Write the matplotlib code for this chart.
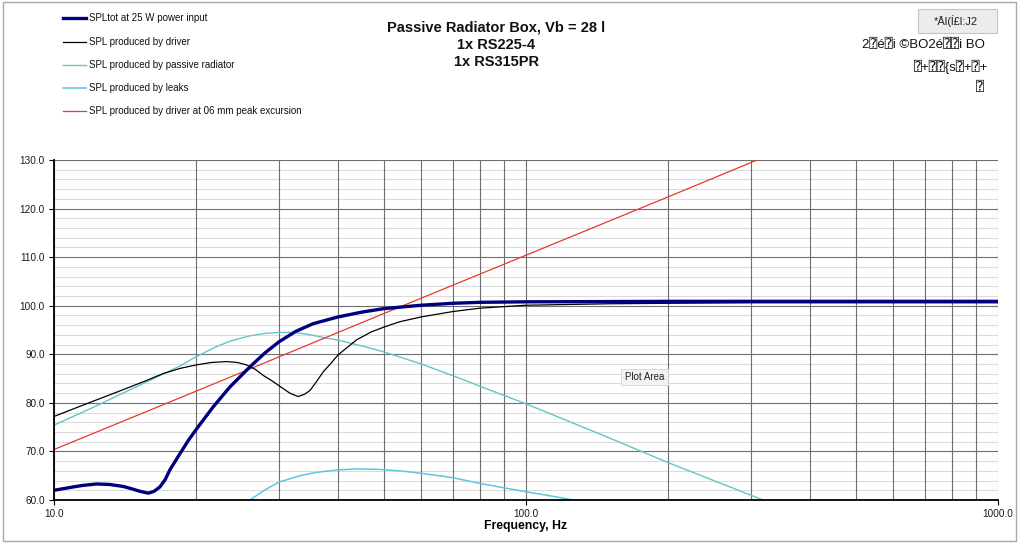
import matplotlib
matplotlib.use("Agg")
import matplotlib.pyplot as plt
from matplotlib.lines import Line2D
from matplotlib.patches import Rectangle
from matplotlib.ticker import FixedLocator, NullFormatter, FixedFormatter

plt.rcParams['font.family'] = ['Liberation Sans', 'DejaVu Sans', 'DejaVu Sans Mono']

# ---------------- data ----------------
title_lines = ["Passive Radiator Box, Vb = 28 l", "1x RS225-4", "1x RS315PR"]
series_labels = ["SPLtot at 25 W power input",
                 "SPL produced by driver",
                 "SPL produced by passive radiator",
                 "SPL produced by leaks",
                 "SPL produced by driver at 06 mm peak excursion"]

tot_freq = [10, 11, 11.5, 12.3, 13.1, 14, 14.5, 15.2, 15.85, 16.3, 16.77, 17.2, 17.6, 18.5,
            19.3, 20, 21.75, 23.6, 26.0, 28, 30, 32.5, 35.4, 40, 45, 50, 60, 70, 80, 100,
            150, 200, 300, 500, 1000]
tot_spl = [62.0, 62.7, 63.0, 63.3, 63.2, 62.8, 62.4, 61.8, 61.4, 61.8, 62.7, 64.2, 66.2, 69.6,
           72.4, 74.5, 79.2, 83.3, 87.4, 90.3, 92.6, 94.7, 96.3, 97.7, 98.7, 99.4, 100.1, 100.5,
           100.7, 100.8, 100.85, 100.9, 100.9, 100.9, 100.9]

drv_freq = [10, 12, 14, 15.7, 17, 18.5, 20, 21.5, 23.2, 24.5, 25.6, 26.7, 27.8, 29, 30,
            31.6, 32.9, 34, 34.9, 36, 37.2, 38.5, 40, 43.8, 47, 50, 54, 60, 70, 80, 100,
            150, 200, 300, 500, 1000]
drv_spl = [77.2, 80.2, 82.7, 84.6, 86.0, 87.1, 87.8, 88.3, 88.5, 88.3, 87.8, 86.9, 85.6, 84.5, 83.5,
           82.0, 81.3, 81.8, 82.6, 84.4, 86.4, 88.0, 89.9, 93.0, 94.6, 95.6, 96.7, 97.7, 98.8, 99.5,
           100.1, 100.4, 100.5, 100.6, 100.6, 100.6]

pr_freq = [10, 12, 14, 16.5, 18.5, 20, 22, 23.6, 26, 28, 30, 31.5, 32.8, 35, 37, 40, 45, 50,
           55, 60, 70, 80, 100, 150, 200, 318]
pr_spl = [75.4, 78.9, 82.0, 85.3, 87.6, 89.5, 91.5, 92.7, 93.8, 94.3, 94.5, 94.5, 94.4, 94.0, 93.5,
          92.9, 91.7, 90.5, 89.2, 88.0, 85.6, 83.4, 79.8, 72.8, 67.7, 60.0]

leak_freq = [26, 28, 30, 33.2, 36, 40, 43.9, 49, 54, 60, 70, 80, 90, 100, 115, 126]
leak_spl = [60.0, 62.1, 63.7, 65.0, 65.7, 66.2, 66.4, 66.3, 66.0, 65.5, 64.6, 63.4, 62.5, 61.7, 60.7, 60.0]

xmax_freq = [10, 20, 50, 100, 200, 300, 1000]
xmax_spl = [70.4, 82.4, 98.4, 110.4, 122.4, 129.5, 150.4]

x_ticks = [10, 100, 1000]
x_ticklabels = ["10.0", "100.0", "1000.0"]
y_ticks = [60, 70, 80, 90, 100, 110, 120, 130]
y_ticklabels = ["60.0", "70.0", "80.0", "90.0", "100.0", "110.0", "120.0", "130.0"]

colors = ["#00007f", "#000000", "#66c4c4", "#5cc6e4", "#e83a2e"]
widths = [2.4, 0.9, 1.0, 1.1, 0.9]

# ---------------- figure ----------------
W, H = 1024, 544
fig = plt.figure(figsize=(W / 100, H / 100), dpi=100)
fig.patch.set_facecolor("white")

def fx(px):
    return px / W

def fy(py):
    return 1 - py / H

# outer chart border
fig.add_artist(Rectangle((fx(3), fy(541)), fx(1016) - fx(3), fy(2) - fy(541),
                         transform=fig.transFigure, fill=False, edgecolor="#a8a8a8", lw=1.0))

ax = fig.add_axes([fx(54), fy(500), fx(998) - fx(54), fy(160) - fy(500)])
ax.set_xscale("log")
ax.set_xlim(10, 1000)
ax.set_ylim(60, 130)

# gridlines
for v in range(62, 130, 2):
    if v % 10:
        ax.axhline(v, color="#dcdcdc", lw=0.8, zorder=0)
for v in y_ticks:
    ax.axhline(v, color="#6e6e6e", lw=0.8, zorder=0.5)
for dec in (10, 100):
    for m in range(1, 10):
        f = dec * m
        if 10 <= f <= 1000:
            ax.axvline(f, color="#6e6e6e", lw=0.8, zorder=0.5)
ax.axvline(1000, color="#6e6e6e", lw=0.8, zorder=0.5)

ax.plot(pr_freq, pr_spl, color=colors[2], lw=widths[2], zorder=3)
ax.plot(leak_freq, leak_spl, color=colors[3], lw=widths[3], zorder=3)
ax.plot(xmax_freq, xmax_spl, color=colors[4], lw=widths[4], zorder=3)
ax.plot(drv_freq, drv_spl, color=colors[1], lw=widths[1], zorder=4)
ax.plot(tot_freq, tot_spl, color=colors[0], lw=widths[0], zorder=5,
        solid_joinstyle="round", solid_capstyle="butt")

ax.xaxis.set_major_locator(FixedLocator(x_ticks))
ax.xaxis.set_major_formatter(FixedFormatter(x_ticklabels))
ax.xaxis.set_minor_locator(FixedLocator([]))
ax.xaxis.set_minor_formatter(NullFormatter())
ax.yaxis.set_major_locator(FixedLocator(y_ticks))
ax.yaxis.set_major_formatter(FixedFormatter(y_ticklabels))

ax.tick_params(axis="both", which="major", direction="out", length=3.5, width=0.8,
               labelsize=7.2, colors="black", labelcolor="#1a1a1a")
ax.tick_params(axis="y", pad=3)
ax.tick_params(axis="x", pad=3)

for s in ("top", "right"):
    ax.spines[s].set_visible(False)
ax.spines["left"].set_linewidth(1.3)
ax.spines["bottom"].set_linewidth(1.3)
ax.spines["left"].set_zorder(6)
ax.spines["bottom"].set_zorder(6)

ax.set_xlabel("Frequency, Hz", fontsize=8.8, fontweight="bold", labelpad=1)

# title
for i, t in enumerate(title_lines):
    fig.text(fx(496), fy(28 + 17 * i), t, ha="center", va="center",
             fontsize=10.5, fontweight="bold", color="#111111")

# legend (manual, Excel-like)
leg_y = [18, 42, 65, 88, 111]
for i, lab in enumerate(series_labels):
    fig.add_artist(Line2D([fx(63), fx(86)], [fy(leg_y[i]), fy(leg_y[i])],
                          transform=fig.transFigure, color=colors[i], lw=widths[i]))
    fig.text(fx(89), fy(leg_y[i]), lab, ha="left", va="center", fontsize=7, color="#111111")

# top-right button and garbled text
fig.add_artist(Rectangle((fx(918), fy(33)), fx(997) - fx(918), fy(9) - fy(33),
                         transform=fig.transFigure, facecolor="#ececec",
                         edgecolor="#c4c4c4", lw=0.8))
fig.text(fx(956), fy(21), "*Āl(ĺ£l:J2", ha="center", va="center", fontsize=8, color="#222222")
fig.text(fx(985), fy(45), "2⍰é⍰i ©BO2é⍰⍰i BO", ha="right", va="center", fontsize=9.5,
         color="#111111")
fig.text(fx(988), fy(67), "⍰+⍰⍰{s⍰+⍰+", ha="right", va="center", fontsize=9.5, color="#111111")
fig.text(fx(984), fy(88), "⍰", ha="right", va="center", fontsize=9.5, color="#111111")

# "Plot Area" tooltip
fig.text(fx(644.5), fy(377), "Plot Area", ha="center", va="center", fontsize=7, color="#222222",
         bbox=dict(boxstyle="square,pad=0.35", facecolor="#f2f2f2", edgecolor="#d4d4d4", lw=0.6),
         zorder=10)

fig.savefig("out.png", dpi=100)
